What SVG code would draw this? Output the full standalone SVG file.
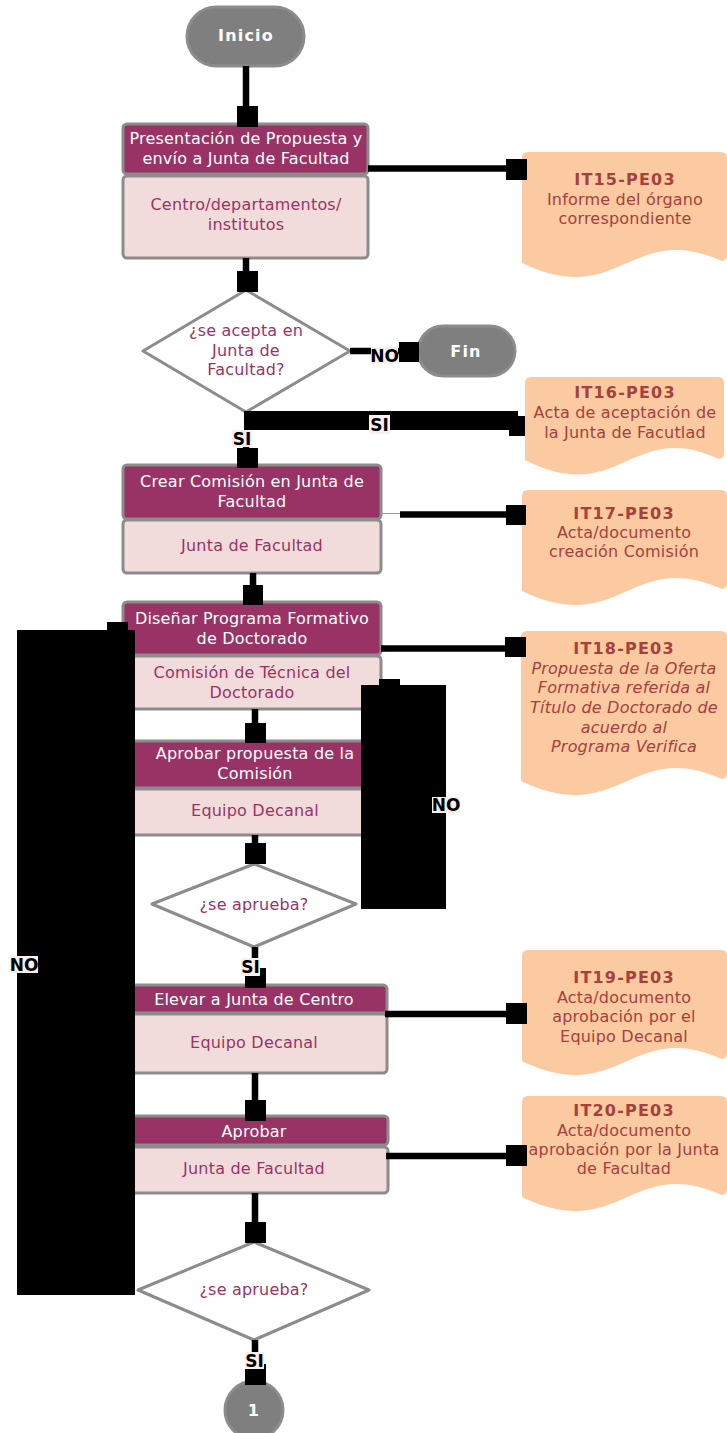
<svg xmlns="http://www.w3.org/2000/svg" width="727" height="1433" viewBox="0 0 727 1433">
<style>
text{font-family:"DejaVu Sans","Liberation Sans",sans-serif;font-size:16px;text-anchor:middle;letter-spacing:0.2px}
.term{fill:#7f7f7f;stroke:#8c8c8c;stroke-width:3}
.tt{fill:#fff;font-weight:bold;letter-spacing:1.2px}
.hd{fill:#993366;stroke:#8c8c8c;stroke-width:3}
.bd{fill:#f2dcdb;stroke:#8c8c8c;stroke-width:3}
.ht{fill:#fff}
.bt{fill:#993366}
.dia{fill:#fff;stroke:#8c8c8c;stroke-width:3;stroke-linejoin:round}
.doc{fill:#fbcaa0}
.dt{fill:#a5403f}
.db{fill:#a5403f;font-weight:bold;letter-spacing:1.2px}
.di{fill:#a5403f;font-style:italic}
.ln{stroke:#000;stroke-width:6.5;fill:none}
.mk{fill:#000}
.lb{fill:#fbeeee}
.lt{fill:#000;font-weight:bold;font-size:17px;letter-spacing:0}
</style>
<g id="inicio">
<rect class="term" x="187" y="7" width="117" height="59" rx="29.5"/>
<text class="tt" x="246" y="41">Inicio</text>
</g>
<g id="p1">
<rect class="hd" x="123" y="124" width="245" height="50" rx="4"/>
<text class="ht" x="246" y="143.5">Presentación de Propuesta y</text>
<text class="ht" x="246" y="163.5">envío a Junta de Facultad</text>
<rect class="bd" x="123" y="176" width="245" height="82" rx="4"/>
<text class="bt" x="246" y="210">Centro/departamentos/</text>
<text class="bt" x="246" y="230">institutos</text>
</g>
<g id="it15">
<path class="doc" d="M522,158 Q522,152 528,152 H721 Q727,152 727,158 V256 Q727,260 722,261 C630,220 620,310 522,263 Z"/>
<text class="db" x="625" y="185">IT15-PE03</text>
<text class="dt" x="625" y="204.5">Informe del órgano</text>
<text class="dt" x="625" y="224">correspondiente</text>
</g>
<g id="d1">
<polygon class="dia" points="246,290 350,351 246,412 143,351"/>
<text class="bt" x="246" y="336">¿se acepta en</text>
<text class="bt" x="246" y="356">Junta de</text>
<text class="bt" x="246" y="375">Facultad?</text>
</g>
<g id="fin">
<rect class="term" x="418" y="326" width="97" height="50" rx="25"/>
<text class="tt" x="466" y="357">Fin</text>
</g>
<g id="it16">
<path class="doc" d="M525,383 Q525,377 531,377 H718 Q724,377 724,383 V454 Q724,458 719,459 C630,418 620,508 525,460 Z"/>
<text class="db" x="625" y="398">IT16-PE03</text>
<text class="dt" x="625" y="417.5">Acta de aceptación de</text>
<text class="dt" x="625" y="437.5">la Junta de Facutlad</text>
</g>
<g id="p2">
<rect class="hd" x="123" y="465" width="258" height="54" rx="4"/>
<text class="ht" x="252" y="487">Crear Comisión en Junta de</text>
<text class="ht" x="252" y="507">Facultad</text>
<rect class="bd" x="123" y="520" width="258" height="53" rx="4"/>
<text class="bt" x="252" y="551">Junta de Facultad</text>
</g>
<g id="it17">
<path class="doc" d="M522,496 Q522,490 528,490 H721 Q727,490 727,496 V584 Q727,588 722,589 C630,548 620,638 522,591 Z"/>
<text class="db" x="624" y="519">IT17-PE03</text>
<text class="dt" x="624" y="537.5">Acta/documento</text>
<text class="dt" x="624" y="557">creación Comisión</text>
</g>
<g id="p3">
<rect class="hd" x="123" y="602" width="258" height="53" rx="4"/>
<text class="ht" x="252" y="624">Diseñar Programa Formativo</text>
<text class="ht" x="252" y="643.5">de Doctorado</text>
<rect class="bd" x="123" y="656" width="258" height="53" rx="4"/>
<text class="bt" x="252" y="677.5">Comisión de Técnica del</text>
<text class="bt" x="252" y="697.5">Doctorado</text>
</g>
<g id="it18">
<path class="doc" d="M521,637 Q521,631 527,631 H721 Q727,631 727,637 V774 Q727,778 722,779 C630,738 620,828 521,781 Z"/>
<text class="db" x="624" y="654">IT18-PE03</text>
<text class="di" x="624" y="673.5">Propuesta de la Oferta</text>
<text class="di" x="624" y="693">Formativa referida al</text>
<text class="di" x="624" y="713">Título de Doctorado de</text>
<text class="di" x="624" y="732.5">acuerdo al</text>
<text class="di" x="624" y="751.5">Programa Verifica</text>
</g>
<g id="p4">
<rect class="hd" x="123" y="741" width="264" height="47" rx="4"/>
<text class="ht" x="255" y="759">Aprobar propuesta de la</text>
<text class="ht" x="255" y="779">Comisión</text>
<rect class="bd" x="123" y="789" width="264" height="46" rx="4"/>
<text class="bt" x="255" y="816">Equipo Decanal</text>
</g>
<g id="d2">
<polygon class="dia" points="254,864 356,904 254,947 152,904"/>
<text class="bt" x="254" y="910">¿se aprueba?</text>
</g>
<g id="p5">
<rect class="hd" x="123" y="985" width="264" height="28" rx="4"/>
<text class="ht" x="254" y="1005">Elevar a Junta de Centro</text>
<rect class="bd" x="123" y="1014" width="264" height="59" rx="4"/>
<text class="bt" x="254" y="1048">Equipo Decanal</text>
</g>
<g id="it19">
<path class="doc" d="M522,956 Q522,950 528,950 H721 Q727,950 727,956 V1054 Q727,1058 722,1059 C630,1018 620,1108 522,1061 Z"/>
<text class="db" x="624" y="983">IT19-PE03</text>
<text class="dt" x="624" y="1003">Acta/documento</text>
<text class="dt" x="624" y="1022">aprobación por el</text>
<text class="dt" x="624" y="1042">Equipo Decanal</text>
</g>
<g id="p6">
<rect class="hd" x="123" y="1116" width="265" height="29" rx="4"/>
<text class="ht" x="254" y="1137">Aprobar</text>
<rect class="bd" x="123" y="1147" width="265" height="46" rx="4"/>
<text class="bt" x="254" y="1174">Junta de Facultad</text>
</g>
<g id="it20">
<path class="doc" d="M522,1102 Q522,1096 528,1096 H721 Q727,1096 727,1102 V1190 Q727,1194 722,1195 C630,1154 620,1244 522,1197 Z"/>
<text class="db" x="624" y="1116">IT20-PE03</text>
<text class="dt" x="624" y="1136">Acta/documento</text>
<text class="dt" x="624" y="1155">aprobación por la Junta</text>
<text class="dt" x="624" y="1174">de Facultad</text>
</g>
<g id="d3">
<polygon class="dia" points="254,1242 369,1290 254,1340 138,1290"/>
<text class="bt" x="254" y="1295">¿se aprueba?</text>
</g>
<g id="c1">
<circle class="term" cx="254" cy="1410" r="29"/>
<text class="tt" x="254" y="1416">1</text>
</g>
<g id="connectors">
<line class="ln" x1="246" y1="66" x2="246" y2="106"/>
<rect class="mk" x="237" y="106" width="21" height="21"/>
<line class="ln" x1="368" y1="168.5" x2="506" y2="168.5"/>
<rect class="mk" x="506" y="159" width="21" height="21"/>
<line class="ln" x1="246" y1="258" x2="246" y2="271"/>
<rect class="mk" x="237" y="271" width="21" height="21"/>
<line class="ln" x1="350" y1="351" x2="399" y2="351"/>
<rect class="mk" x="399" y="342" width="20" height="20"/>
<rect class="lb" x="371" y="347" width="27" height="17"/>
<text class="lt" x="384.5" y="361.5">NO</text>
<path class="mk" d="M244,411 H518 V416 H525 V436 H509 V430 H244 Z"/>
<rect class="lb" x="369" y="415" width="21" height="19"/>
<text class="lt" x="379.5" y="430.5">SI</text>
<line class="ln" x1="246" y1="430" x2="246" y2="448"/>
<rect class="mk" x="237" y="448" width="21" height="20"/>
<rect class="lb" x="232" y="430" width="20" height="17"/>
<text class="lt" x="242" y="444.5">SI</text>
<line x1="381" y1="513.5" x2="400" y2="513.5" stroke="#999" stroke-width="1"/>
<line class="ln" x1="400" y1="514.5" x2="507" y2="514.5"/>
<rect class="mk" x="506" y="505" width="20" height="20"/>
<line class="ln" x1="253" y1="573" x2="253" y2="585"/>
<rect class="mk" x="243" y="585" width="20" height="20"/>
<line class="ln" x1="381" y1="648.5" x2="506" y2="648.5"/>
<rect class="mk" x="505" y="637" width="21" height="20"/>
<line class="ln" x1="255" y1="709" x2="255" y2="723"/>
<rect class="mk" x="245" y="723" width="21" height="20"/>
<line class="ln" x1="255" y1="835" x2="255" y2="843"/>
<rect class="mk" x="245" y="843" width="21" height="21"/>
<path class="mk" d="M379,679 H400 V685 H446 V909 H361 V685 H379 Z"/>
<rect class="lb" x="432" y="797" width="28" height="16"/>
<text class="lt" x="446" y="811">NO</text>
<line class="ln" x1="255" y1="947" x2="255" y2="968"/>
<rect class="mk" x="245" y="968" width="21" height="20"/>
<rect class="lb" x="241" y="958" width="19" height="18"/>
<text class="lt" x="250.5" y="973">SI</text>
<line class="ln" x1="385" y1="1014" x2="506" y2="1014"/>
<rect class="mk" x="506" y="1003" width="21" height="21"/>
<line class="ln" x1="255" y1="1073" x2="255" y2="1100"/>
<rect class="mk" x="245" y="1100" width="21" height="21"/>
<line class="ln" x1="386" y1="1156" x2="506" y2="1156"/>
<rect class="mk" x="506" y="1145" width="21" height="21"/>
<line class="ln" x1="255" y1="1193" x2="255" y2="1222"/>
<rect class="mk" x="245" y="1222" width="21" height="21"/>
<line class="ln" x1="255" y1="1340" x2="255" y2="1364"/>
<rect class="mk" x="245" y="1364" width="21" height="21"/>
<rect class="lb" x="245" y="1352" width="19" height="17"/>
<text class="lt" x="254.5" y="1366.5">SI</text>
<path class="mk" d="M107,622 H128 V630 H135 V1295 H17 V630 H107 Z"/>
<rect class="lb" x="10" y="956" width="28" height="17"/>
<text class="lt" x="24" y="970.5">NO</text>
</g>
</svg>
